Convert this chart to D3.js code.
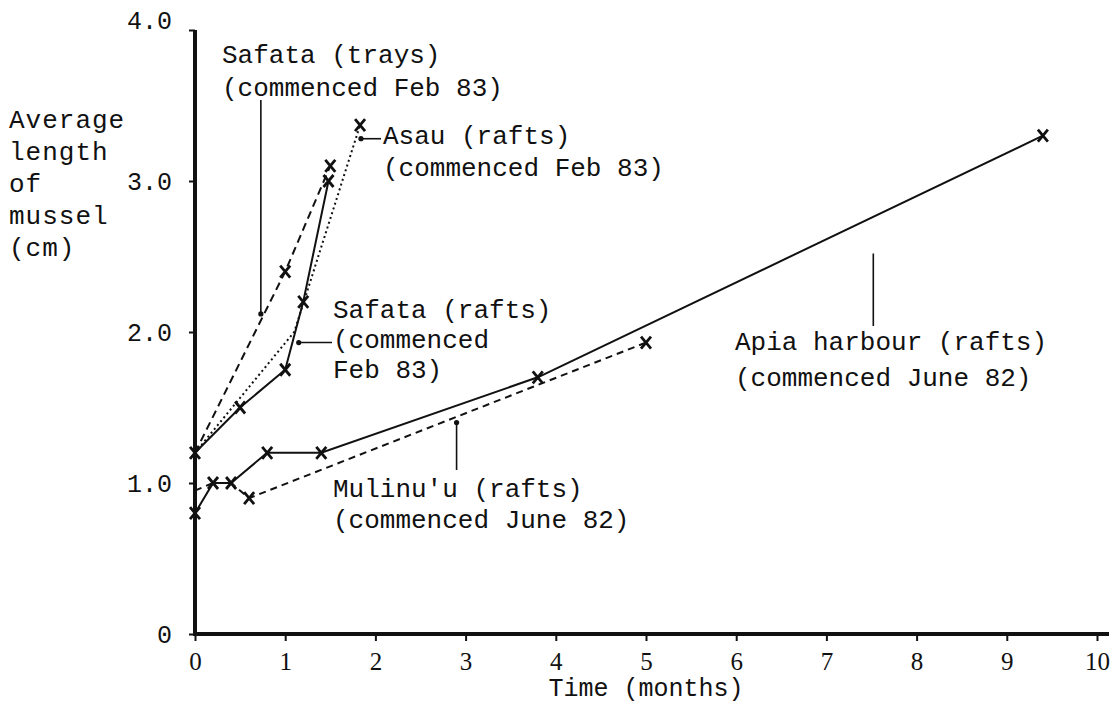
<!DOCTYPE html>
<html>
<head>
<meta charset="utf-8">
<script src="https://cdn.jsdelivr.net/npm/d3@7"></script>
<style>
  body { margin: 0; background: #fff; }
  text { font-family: "Liberation Mono", "Courier New", monospace; fill: #111; }
</style>
</head>
<body>
<svg id="chart" width="1114" height="709"></svg>
<script>
/* values: months since start vs. average length (cm) */

// Safata (trays) - commenced Feb 83
var traysMonths = [0, 1.0, 1.5];
var traysLength = [1.2, 2.4, 3.1];
var traysCross  = [false, true, true];

// Safata (rafts) - commenced Feb 83
var safataMonths = [0, 0.5, 1.0, 1.2, 1.48];
var safataLength = [1.2, 1.5, 1.75, 2.2, 3.0];
var safataCross  = [true, true, true, true, true];

// Asau (rafts) - commenced Feb 83
var asauMonths = [0, 1.1, 1.83];
var asauLength = [1.2, 2.0, 3.37];
var asauCross  = [false, false, true];

// Apia harbour (rafts) - commenced June 82
var apiaMonths = [0, 0.2, 0.4, 0.8, 1.4, 3.8, 9.4];
var apiaLength = [0.8, 1.0, 1.0, 1.2, 1.2, 1.7, 3.3];
var apiaCross  = [true, true, true, true, true, true, true];

// Mulinu'u (rafts) - commenced June 82
var mulinuuMonths = [0, 0.2, 0.4, 0.6, 5.0];
var mulinuuLength = [0.95, 1.0, 1.0, 0.9, 1.93];
var mulinuuCross  = [false, false, false, true, true];

var xTicks = [0, 1, 2, 3, 4, 5, 6, 7, 8, 9, 10];
var yTicks = [0, 1, 2, 3, 4];
var yTickLabels = ["0", "1.0", "2.0", "3.0", "4.0"];
var yTitle = ["Average", "length", "of", "mussel", "(cm)"];
var xTitle = "Time (months)";

// callout points on the curves (month, cm)
var traysNote   = {m: 0.73, v: 2.12, text: ["Safata (trays)", "(commenced Feb 83)"]};
var asauNote    = {m: 1.84, v: 3.28, text: ["Asau (rafts)", "(commenced Feb 83)"]};
var safataNote  = {m: 1.15, v: 1.93, text: ["Safata (rafts)", "(commenced", "Feb 83)"]};
var mulinuuNote = {m: 2.9,  v: 1.40, text: ["Mulinu'u (rafts)", "(commenced June 82)"]};
var apiaNote    = {m: 7.52, v: 2.52, text: ["Apia harbour (rafts)", "(commenced June 82)"]};

var svg = d3.select("#chart");

var x = d3.scaleLinear().domain([0, 10]).range([195, 1097]);
var y = d3.scaleLinear().domain([0, 4]).range([634, 30]);

// axes
var xAxis = d3.axisBottom(x).tickValues(xTicks).tickSize(7).tickSizeOuter(0)
              .tickFormat(d3.format("d"));
var gx = svg.append("g").attr("transform", "translate(0," + y(0) + ")").call(xAxis);
gx.select(".domain").remove();
gx.selectAll(".tick line").attr("stroke", "#111").attr("stroke-width", 2);
gx.selectAll(".tick text")
  .attr("y", 36).attr("dy", 0)
  .style("font-family", "'Liberation Serif', serif")
  .style("font-size", "25px");

var yAxis = d3.axisLeft(y).tickValues(yTicks).tickSize(6).tickSizeOuter(0)
              .tickFormat(function(d, i) { return yTickLabels[i]; });
var gy = svg.append("g").attr("transform", "translate(" + x(0) + ",0)").call(yAxis);
gy.select(".domain").remove();
gy.selectAll(".tick line").attr("stroke", "#111").attr("stroke-width", 2);
gy.selectAll(".tick text")
  .attr("x", -23)
  .attr("dy", function(d) { return d == 4 ? "-0.05em" : "0.32em"; })
  .style("font-size", "25px");

// heavy axis lines like the original
svg.append("line")
  .attr("x1", x(0)).attr("x2", x(0))
  .attr("y1", y(4)).attr("y2", y(0) + 2)
  .attr("stroke", "#111").attr("stroke-width", 4);
svg.append("line")
  .attr("x1", x(0) - 2).attr("x2", x(10) + 12)
  .attr("y1", y(0)).attr("y2", y(0))
  .attr("stroke", "#111").attr("stroke-width", 4);

// axis titles
svg.append("g").selectAll("text")
  .data(yTitle).enter().append("text")
  .attr("x", 9)
  .attr("y", function(d, i) { return 128 + i * 32; })
  .style("font-size", "26px")
  .style("letter-spacing", "1px")
  .text(function(d) { return d; });

svg.append("text")
  .attr("x", (x(0) + x(10)) / 2)
  .attr("y", 696)
  .attr("text-anchor", "middle")
  .style("font-size", "25px")
  .text(xTitle);

// series
var line = d3.line().x(function(d) { return x(d[0]); }).y(function(d) { return y(d[1]); });

function draw_series(months, lengths, crosses, dash){
  var pts = d3.zip(months, lengths, crosses);
  svg.append("path")
    .datum(pts)
    .attr("d", line)
    .attr("fill", "none")
    .attr("stroke", "#111")
    .attr("stroke-width", 2)
    .attr("stroke-dasharray", dash);
  svg.append("g").selectAll("path")
    .data(pts.filter(function(p) { return p[2]; }))
    .enter().append("path")
    .attr("transform", function(p) { return "translate(" + x(p[0]) + "," + y(p[1]) + ")"; })
    .attr("d", "M-5,-6L5,6M5,-6L-5,6")
    .attr("stroke", "#111")
    .attr("stroke-width", 2.8)
    .attr("fill", "none");
}

draw_series(apiaMonths, apiaLength, apiaCross, null);
draw_series(mulinuuMonths, mulinuuLength, mulinuuCross, "7,5");
draw_series(traysMonths, traysLength, traysCross, "8,5");
draw_series(asauMonths, asauLength, asauCross, "2,3");
draw_series(safataMonths, safataLength, safataCross, null);

// callouts
function dot(note){
  svg.append("circle")
    .attr("cx", x(note.m)).attr("cy", y(note.v)).attr("r", 2.6)
    .attr("fill", "#111");
}
function lead(x1, y1, x2, y2){
  svg.append("line")
    .attr("x1", x1).attr("y1", y1).attr("x2", x2).attr("y2", y2)
    .attr("stroke", "#111").attr("stroke-width", 1.6);
}
function label(lines, lx, ly, gap){
  svg.append("g").selectAll("text")
    .data(lines).enter().append("text")
    .attr("x", lx)
    .attr("y", function(d, i) { return ly + i * gap; })
    .style("font-size", "26px")
    .text(function(d) { return d; });
}

dot(traysNote);
lead(x(traysNote.m), y(traysNote.v), x(traysNote.m), 100);
label(traysNote.text, 222, 63, 33);

dot(asauNote);
lead(x(asauNote.m), y(asauNote.v), 381, y(asauNote.v));
label(asauNote.text, 383, 144, 32);

dot(safataNote);
lead(x(safataNote.m), y(safataNote.v), 332, y(safataNote.v));
label(safataNote.text, 333, 318, 30);

dot(mulinuuNote);
lead(x(mulinuuNote.m), y(mulinuuNote.v), x(mulinuuNote.m), 470);
label(mulinuuNote.text, 333, 497, 31);

lead(x(apiaNote.m), y(apiaNote.v), x(apiaNote.m), 326);
label(apiaNote.text, 735, 350, 36);
</script>
</body>
</html>
